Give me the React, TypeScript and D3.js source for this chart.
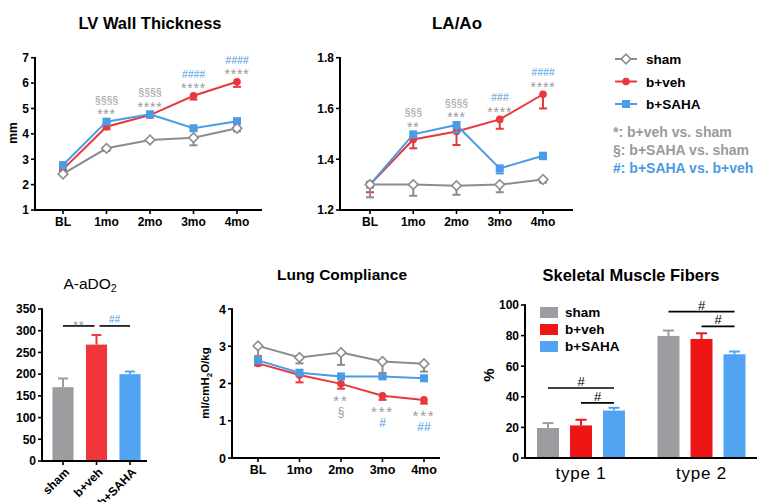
import React from 'react';
import * as d3 from 'd3';

const FONT = "'Liberation Sans', Arial, Helvetica, sans-serif";
const GRAY = '#8c8c8c';
const RED = '#e8383d';
const BLUE = '#4b9ce6';
const NOTE_GRAY = '#9a9a9a';
const NOTE_BLUE = '#4a9be0';
const BAR_GRAY = '#9d9da1';
const BAR_RED = '#f0353b';
const BAR_BLUE = '#52a3f2';
const BAR_RED2 = '#ee1515';

// ---- data ----
const TIMEPOINTS = ['BL', '1mo', '2mo', '3mo', '4mo'];
const GROUPS = ['sham', 'b+veh', 'b+SAHA'];
const FIBER_TYPES = ['type 1', 'type 2'];

const LV_SHAM = [2.42, 3.43, 3.76, 3.85, 4.22];
const LV_SHAM_SEM = [0.05, 0.1, 0.05, 0.3, 0.12];
const LV_VEH = [2.6, 4.28, 4.74, 5.5, 6.05];
const LV_VEH_SEM = [0.05, 0.1, 0.1, 0.15, 0.2];
const LV_SAHA = [2.77, 4.48, 4.77, 4.22, 4.5];
const LV_SAHA_SEM = [0.04, 0.05, 0.05, 0.05, 0.05];
const LV_TICKS = [1, 2, 3, 4, 5, 6, 7];
const LV_MARKS = [[], ['§§§§', '***'], ['§§§§', '****'], ['####', '****'], ['####', '****']];

const LA_SHAM = [1.3, 1.3, 1.296, 1.3, 1.32];
const LA_SHAM_SEM = [0.05, 0.044, 0.036, 0.03, 0.012];
const LA_VEH = [1.3, 1.478, 1.509, 1.557, 1.656];
const LA_VEH_SEM = [0.03, 0.035, 0.053, 0.037, 0.056];
const LA_SAHA = [1.3, 1.498, 1.535, 1.364, 1.414];
const LA_SAHA_SEM = [0.01, 0.01, 0.03, 0.02, 0.014];
const LA_TICKS = [1.2, 1.4, 1.6, 1.8];
const LA_MARKS = [[], ['§§§', '**'], ['§§§§', '***'], ['###', '****'], ['####', '****']];

const LC_SHAM = [3.01, 2.7, 2.83, 2.59, 2.53];
const LC_SHAM_SEM = [0.27, 0.16, 0.33, 0.31, 0.21];
const LC_VEH = [2.54, 2.23, 1.99, 1.67, 1.56];
const LC_VEH_SEM = [0.05, 0.2, 0.13, 0.11, 0.1];
const LC_SAHA = [2.62, 2.29, 2.19, 2.19, 2.14];
const LC_SAHA_SEM = [0.05, 0.05, 0.03, 0.06, 0.03];
const LC_TICKS = [0, 1, 2, 3, 4];
const LC_MARKS = [[], [], ['**', '§'], ['***', '#'], ['***', '##']];

const AADO2 = [170, 268, 200];
const AADO2_SEM = [20, 22, 6];
const AADO2_TICKS = [0, 50, 100, 150, 200, 250, 300, 350];
const AADO2_SIG = [
  { from: 'sham', to: 'b+veh', y: 311, label: '**' },
  { from: 'b+veh', to: 'b+SAHA', y: 311, label: '##' },
];

const FIB_TYPE1 = [19.6, 21.3, 31];
const FIB_TYPE1_SEM = [3.2, 3.7, 1.8];
const FIB_TYPE2 = [79.8, 77.8, 67.8];
const FIB_TYPE2_SEM = [3.5, 3.7, 1.8];
const FIB_TICKS = [0, 20, 40, 60, 80, 100];
const FIB_SIG = [
  { type: 'type 1', from: 'sham', to: 'b+SAHA', y: 45.8, label: '#' },
  { type: 'type 1', from: 'b+veh', to: 'b+SAHA', y: 36, label: '#' },
  { type: 'type 2', from: 'sham', to: 'b+SAHA', y: 95.7, label: '#' },
  { type: 'type 2', from: 'b+veh', to: 'b+SAHA', y: 86, label: '#' },
];

// ---- helpers ----
function Marker({ kind, cx, cy, color }) {
  if (kind === 'diamond')
    return (
      <rect x={-3.4} y={-3.4} width={6.8} height={6.8} transform={`translate(${cx},${cy}) rotate(45)`}
        fill="#fff" stroke={color} strokeWidth={1.6} />
    );
  if (kind === 'circle') return <circle cx={cx} cy={cy} r={3.8} fill={color} />;
  return <rect x={cx - 4} y={cy - 4} width={8} height={8} fill={color} />;
}

function markColor(s) {
  return s[0] === '#' ? NOTE_BLUE : NOTE_GRAY;
}

function YAxis({ y, x0, ticks, fmt, fontSize = 12 }) {
  const [b, t] = y.range();
  return (
    <g>
      <line x1={x0} x2={x0} y1={t - 0.8} y2={b + 1} stroke="#000" strokeWidth={2} />
      {ticks.map((v) => (
        <g key={v}>
          <line x1={x0 - 4} x2={x0} y1={y(v)} y2={y(v)} stroke="#000" strokeWidth={1.6} />
          <text x={x0 - 6} y={y(v)} dy="0.36em" textAnchor="end" fontSize={fontSize} fontWeight="bold">
            {fmt(v)}
          </text>
        </g>
      ))}
    </g>
  );
}

function LinePanel(p) {
  const x = d3.scalePoint().domain(TIMEPOINTS).range([p.xFirst, p.xLast]);
  const y = d3.scaleLinear().domain(p.domain).range([p.yBottom, p.yTop]);
  const line = d3.line().x((d, i) => x(TIMEPOINTS[i])).y((d) => y(d));
  return (
    <g>
      <text x={p.titleX} y={p.titleY} textAnchor="middle" fontSize={p.titleSize} fontWeight="bold">{p.title}</text>
      <YAxis y={y} x0={p.x0} ticks={p.ticks} fmt={p.fmt} fontSize={p.tickSize} />
      <line x1={p.x0 - 1} x2={p.x1} y1={p.yBottom} y2={p.yBottom} stroke="#000" strokeWidth={2} />
      {TIMEPOINTS.map((t) => (
        <g key={t}>
          <line x1={x(t)} x2={x(t)} y1={p.yBottom} y2={p.yBottom + 4} stroke="#000" strokeWidth={1.6} />
          <text x={x(t)} y={p.yBottom + 16} textAnchor="middle" fontSize={p.tickSize} fontWeight="bold">{t}</text>
        </g>
      ))}
      {p.ylabel}
      {p.series.map((s, k) => (
        <g key={k}>
          <path d={line(s.vals)} fill="none" stroke={s.color} strokeWidth={2} />
          {s.vals.map((v, i) => {
            const cx = x(TIMEPOINTS[i]);
            const y1 = y(v - s.sem[i]);
            return (
              <g key={i}>
                <line x1={cx} x2={cx} y1={y(v)} y2={y1} stroke={s.color} strokeWidth={2} />
                <line x1={cx - 4} x2={cx + 4} y1={y1} y2={y1} stroke={s.color} strokeWidth={2} />
              </g>
            );
          })}
          {s.vals.map((v, i) => (
            <Marker key={'m' + i} kind={s.marker} cx={x(TIMEPOINTS[i])} cy={y(v)} color={s.color} />
          ))}
        </g>
      ))}
      {p.marks.map((lines, i) => {
        if (!lines.length) return null;
        const cx = x(TIMEPOINTS[i]);
        if (p.markPos === 'above') {
          const top = Math.min(...p.series.map((s) => y(s.vals[i])));
          const n = lines.length;
          return (
            <text key={i} textAnchor="middle">
              {lines.map((s, j) => {
                const isStar = s[0] === '*';
                const base = top - (isStar ? 2.5 : 6) - (n - 1 - j) * 12;
                return (
                  <tspan key={j} x={cx} y={base} fill={markColor(s)}
                    fontSize={isStar ? 14 : 10.5} letterSpacing={isStar ? 0.8 : 0} fontStyle={s[0] === '#' ? 'italic' : 'normal'}>
                    {s}
                  </tspan>
                );
              })}
            </text>
          );
        }
        const bottom = Math.max(...p.series.map((s) => y(s.vals[i] - s.sem[i])));
        return (
          <text key={i} textAnchor="middle">
            {lines.map((s, j) => {
              const isStar = s[0] === '*';
              const base = bottom + 17 + j * 10.5;
              return (
                <tspan key={j} x={cx} y={base} fill={markColor(s)}
                  fontSize={isStar ? 15 : 12} letterSpacing={isStar ? 1.8 : 0}>
                  {s}
                </tspan>
              );
            })}
          </text>
        );
      })}
    </g>
  );
}

function AaDO2Panel() {
  const x0 = 42;
  const xb = d3.scaleBand().domain(GROUPS).range([46.25, 146.75]).paddingInner(0.37).paddingOuter(0.185);
  const y = d3.scaleLinear().domain([0, 350]).range([461, 309]);
  const colors = [BAR_GRAY, BAR_RED, BAR_BLUE];
  const bw = xb.bandwidth();
  return (
    <g>
      <text x={90} y={289} textAnchor="middle" fontSize={15.5}>
        A-aDO<tspan fontSize={10.5} dy={3}>2</tspan>
      </text>
      {GROUPS.map((g, i) => {
        const cx = xb(g) + bw / 2;
        const top = y(AADO2[i] + AADO2_SEM[i]);
        return (
          <g key={g}>
            <line x1={cx} x2={cx} y1={y(AADO2[i])} y2={top} stroke={colors[i]} strokeWidth={2} />
            <line x1={cx - 5} x2={cx + 5} y1={top} y2={top} stroke={colors[i]} strokeWidth={2} />
            <rect x={xb(g)} y={y(AADO2[i])} width={bw} height={y(0) - y(AADO2[i])} fill={colors[i]} />
          </g>
        );
      })}
      <YAxis y={y} x0={x0} ticks={AADO2_TICKS} fmt={(v) => String(v)} fontSize={12} />
      <line x1={x0 - 1} x2={147} y1={461} y2={461} stroke="#000" strokeWidth={2} />
      {GROUPS.map((g) => {
        const cx = xb(g) + bw / 2;
        return (
          <g key={g}>
            <line x1={cx} x2={cx} y1={461} y2={465} stroke="#000" strokeWidth={1.6} />
            <text transform={`translate(${cx + 4},${470}) rotate(-45)`} textAnchor="end" fontSize={12} fontWeight="bold" dy="0.35em">
              {g}
            </text>
          </g>
        );
      })}
      {AADO2_SIG.map((s, i) => {
        const xa = xb(s.from) + bw / 2 + (i === 0 ? 0 : 3);
        const xe = xb(s.to) + bw / 2 - (i === 0 ? 2 : 0);
        const yy = y(s.y);
        const isStar = s.label[0] === '*';
        return (
          <g key={i}>
            <line x1={xa} x2={xe} y1={yy} y2={yy} stroke="#000" strokeWidth={1.6} />
            <text x={(xa + xe) / 2} y={isStar ? yy + 4 : yy - 2.5} textAnchor="middle" fill={markColor(s.label)}
              fontSize={isStar ? 13 : 10} letterSpacing={isStar ? 0.8 : 0.3}>
              {s.label}
            </text>
          </g>
        );
      })}
    </g>
  );
}

function FiberPanel() {
  const x0 = 525;
  const xg = d3.scalePoint().domain(FIBER_TYPES).range([581, 701.5]);
  const y = d3.scaleLinear().domain([0, 100]).range([458, 305]);
  const colors = [BAR_GRAY, BAR_RED2, BAR_BLUE];
  const data = { 'type 1': [FIB_TYPE1, FIB_TYPE1_SEM], 'type 2': [FIB_TYPE2, FIB_TYPE2_SEM] };
  const inner = (t) => d3.scaleBand().domain(GROUPS).range([xg(t) - 49.5, xg(t) + 49.5]).paddingInner(1 / 3).paddingOuter(1 / 6);
  return (
    <g>
      <text x={631} y={281} textAnchor="middle" fontSize={16.5} fontWeight="bold">Skeletal Muscle Fibers</text>
      {FIBER_TYPES.map((t) => {
        const xb = inner(t);
        const bw = xb.bandwidth();
        const [vals, sem] = data[t];
        return (
          <g key={t}>
            {GROUPS.map((g, i) => {
              const cx = xb(g) + bw / 2;
              const top = y(vals[i] + sem[i]);
              return (
                <g key={g}>
                  <line x1={cx} x2={cx} y1={y(vals[i])} y2={top} stroke={colors[i]} strokeWidth={2} />
                  <line x1={cx - 5.5} x2={cx + 5.5} y1={top} y2={top} stroke={colors[i]} strokeWidth={2} />
                  <rect x={xb(g)} y={y(vals[i])} width={bw} height={y(0) - y(vals[i])} fill={colors[i]} />
                </g>
              );
            })}
            <text x={xg(t)} y={479} textAnchor="middle" fontSize={17} letterSpacing={0.8}>{t}</text>
          </g>
        );
      })}
      {FIB_SIG.map((s, i) => {
        const xb = inner(s.type);
        const bw = xb.bandwidth();
        const xa = xb(s.from) + bw / 2;
        const xe = xb(s.to) + bw / 2;
        const yy = y(s.y);
        return (
          <g key={i}>
            <line x1={xa} x2={xe} y1={yy} y2={yy} stroke="#000" strokeWidth={1.6} />
            <text x={(xa + xe) / 2} y={yy - 2} textAnchor="middle" fontSize={13}>{s.label}</text>
          </g>
        );
      })}
      <YAxis y={y} x0={x0} ticks={FIB_TICKS} fmt={(v) => String(v)} fontSize={12} />
      <line x1={x0 - 1} x2={757} y1={458} y2={458} stroke="#000" strokeWidth={2} />
      <text transform={`translate(${494},${375}) rotate(-90)`} textAnchor="middle" fontSize={15} fontWeight="bold">%</text>
      {GROUPS.map((g, i) => (
        <g key={g}>
          <rect x={540} y={307 + i * 17} width={18} height={11} fill={colors[i]} />
          <text x={565} y={317 + i * 17} fontSize={13.5} fontWeight="bold">{g}</text>
        </g>
      ))}
    </g>
  );
}

function TopLegend() {
  const items = [
    { label: 'sham', color: GRAY, marker: 'diamond' },
    { label: 'b+veh', color: RED, marker: 'circle' },
    { label: 'b+SAHA', color: BLUE, marker: 'square' },
  ];
  const notes = [
    { t: '*: b+veh vs. sham', c: NOTE_GRAY },
    { t: '§: b+SAHA vs. sham', c: NOTE_GRAY },
    { t: '#: b+SAHA vs. b+veh', c: NOTE_BLUE },
  ];
  return (
    <g>
      {items.map((it, i) => {
        const yy = 59 + i * 22.5;
        return (
          <g key={it.label}>
            <line x1={615} x2={637} y1={yy} y2={yy} stroke={it.color} strokeWidth={2} />
            <Marker kind={it.marker} cx={626} cy={yy} color={it.color} />
            <text x={646} y={yy + 5} fontSize={13.5} fontWeight="bold">{it.label}</text>
          </g>
        );
      })}
      {notes.map((n, i) => (
        <text key={i} x={613} y={137 + i * 18} fontSize={14} fontWeight="bold" fill={n.c}>{n.t}</text>
      ))}
    </g>
  );
}

export default function App() {
  return (
    <svg width={757} height={502} style={{ position: 'absolute', left: 0, top: 0, background: '#fff' }}
      fontFamily={FONT}>
      <rect width={757} height={502} fill="#fff" />
      <LinePanel
        title="LV Wall Thickness" titleX={150} titleY={29} titleSize={16.5} tickSize={12}
        x0={35} x1={262} xFirst={63} xLast={237} yTop={57.7} yBottom={210}
        domain={[1, 7]} ticks={LV_TICKS} fmt={(v) => String(v)}
        ylabel={<text transform="translate(17,133) rotate(-90)" textAnchor="middle" fontSize={12} fontWeight="bold">mm</text>}
        series={[
          { vals: LV_VEH, sem: LV_VEH_SEM, color: RED, marker: 'circle' },
          { vals: LV_SAHA, sem: LV_SAHA_SEM, color: BLUE, marker: 'square' },
          { vals: LV_SHAM, sem: LV_SHAM_SEM, color: GRAY, marker: 'diamond' },
        ]}
        marks={LV_MARKS} markPos="above"
      />
      <LinePanel
        title="LA/Ao" titleX={457} titleY={29} titleSize={17} tickSize={12}
        x0={340} x1={573} xFirst={370} xLast={543} yTop={57.7} yBottom={210}
        domain={[1.2, 1.8]} ticks={LA_TICKS} fmt={d3.format('.1f')}
        ylabel={null}
        series={[
          { vals: LA_VEH, sem: LA_VEH_SEM, color: RED, marker: 'circle' },
          { vals: LA_SAHA, sem: LA_SAHA_SEM, color: BLUE, marker: 'square' },
          { vals: LA_SHAM, sem: LA_SHAM_SEM, color: GRAY, marker: 'diamond' },
        ]}
        marks={LA_MARKS} markPos="above"
      />
      <TopLegend />
      <AaDO2Panel />
      <LinePanel
        title="Lung Compliance" titleX={342} titleY={280} titleSize={15.5} tickSize={12.5}
        x0={232} x1={440} xFirst={258} xLast={424} yTop={309} yBottom={458}
        domain={[0, 4]} ticks={LC_TICKS} fmt={(v) => String(v)}
        ylabel={
          <text transform="translate(209,383) rotate(-90)" textAnchor="middle" fontSize={11.5} fontWeight="bold">
            ml/cmH<tspan fontSize={8} dy={3}>2</tspan><tspan dy={-3}>O/kg</tspan>
          </text>
        }
        series={[
          { vals: LC_VEH, sem: LC_VEH_SEM, color: RED, marker: 'circle' },
          { vals: LC_SAHA, sem: LC_SAHA_SEM, color: BLUE, marker: 'square' },
          { vals: LC_SHAM, sem: LC_SHAM_SEM, color: GRAY, marker: 'diamond' },
        ]}
        marks={LC_MARKS} markPos="below"
      />
      <FiberPanel />
    </svg>
  );
}
